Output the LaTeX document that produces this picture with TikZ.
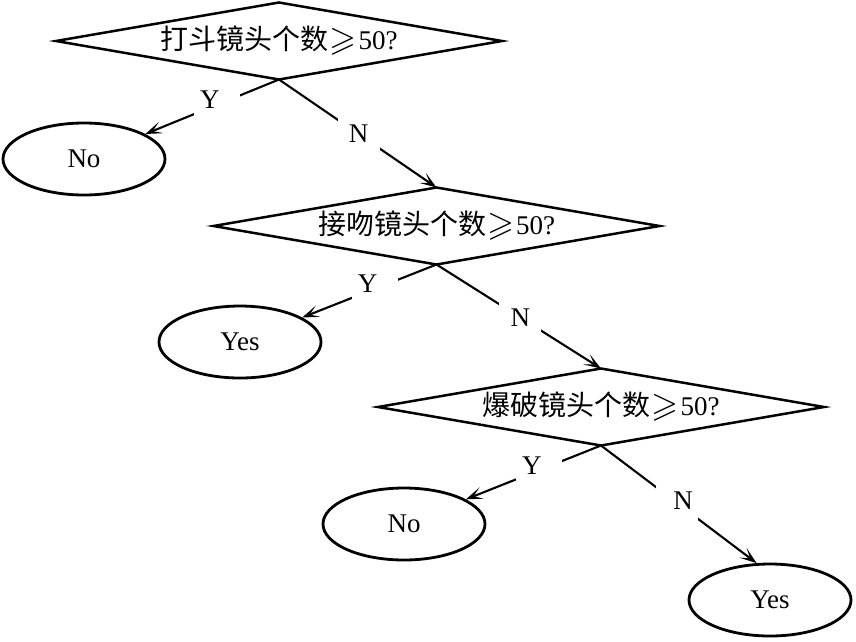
\documentclass[tikz,border=0pt]{standalone}
\usepackage{fontspec}
\usepackage{amssymb}
\usepackage{graphicx}
\setmainfont{Liberation Serif}
\newfontfamily\cjk{Noto Sans CJK SC}
\usetikzlibrary{shapes.geometric,arrows.meta}
\newcommand{\qtext}[1]{\makebox[0pt]{\raisebox{-2pt}{{\cjk\fontsize{28}{30}\selectfont #1}\hspace{1pt}\raisebox{-1pt}{\resizebox{27pt}{!}{$\geqslant$}}\hspace{2pt}50?}}}
\begin{document}
\begin{tikzpicture}[x=1pt,y=-1pt,
  every node/.style={font=\fontsize{27}{30}\selectfont},
  dec/.style={draw, line width=2.5pt, diamond, inner sep=0pt, outer sep=0pt, minimum width=446pt, minimum height=77pt},
  leaf/.style={draw, line width=2.8pt, ellipse, inner sep=0pt, minimum width=162pt, minimum height=72pt},
  conn/.style={line width=2.1pt, -{Stealth[length=17pt,width=12pt,inset=9pt]}},
  lbly/.style={fill=white, inner sep=0pt, minimum width=46pt, minimum height=26pt},
  lbln/.style={fill=white, inner sep=0pt, minimum width=42pt, minimum height=34pt}
]
\useasboundingbox (0,0) rectangle (856,641);

\node[dec] (d1) at (279,41) {\qtext{打斗镜头个数}};
\node[dec] (d2) at (436.5,226) {\qtext{接吻镜头个数}};
\node[dec] (d3) at (601,407) {\qtext{爆破镜头个数}};

\node[leaf] (e1) at (84,159) {No};
\node[leaf] (e2) at (240,342) {Yes};
\node[leaf] (e3) at (404,524) {No};
\node[leaf] (e4) at (770,600) {Yes};

\draw[conn] (d1.south) -- node[lbly, pos=0.465] {\makebox[0pt]{\raisebox{-4pt}[0pt][0pt]{Y}\hspace*{14pt}}} (e1);
\draw[conn] (d1.south) -- node[lbln, pos=0.506] {N} (d2.north);
\draw[conn] (d2.south) -- node[lbly, pos=0.46] {\makebox[0pt]{\raisebox{-4pt}[0pt][0pt]{Y}\hspace*{14pt}}} (e2);
\draw[conn] (d2.south) -- node[lbln, pos=0.51] {N} (d3.north);
\draw[conn] (d3.south) -- node[lbly, pos=0.46] {\makebox[0pt]{\raisebox{-4pt}[0pt][0pt]{Y}\hspace*{14pt}}} (e3);
\draw[conn] (d3.south) -- node[lbln, pos=0.49] {\makebox[0pt]{\hspace*{12pt}\raisebox{-6pt}[0pt][0pt]{N}}} (e4.110);
\end{tikzpicture}
\end{document}
